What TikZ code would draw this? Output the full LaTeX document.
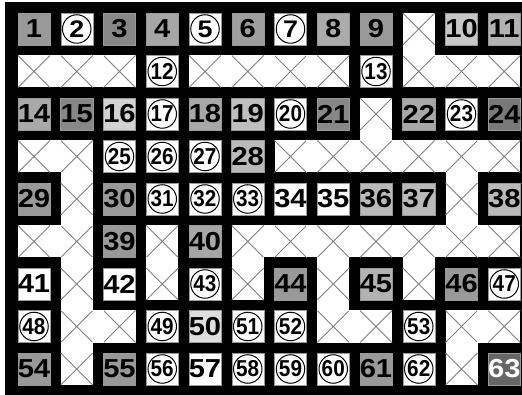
\documentclass[tikz,border=0pt]{standalone}
\usepackage{fontspec}
\newfontfamily\numfont[FakeStretch=1.12]{Liberation Sans}
\newfontfamily\cirfont[FakeStretch=0.9]{Liberation Sans}
\begin{document}
\begin{tikzpicture}[x=1pt,y=-1pt]
\tikzset{
  sq/.style={minimum size=32pt, inner sep=0pt, outer sep=0pt, draw=black!40, line width=0.5pt,
    font=\numfont\bfseries\fontsize{26}{26}\selectfont},
  ring/.style={circle, draw=black, line width=1pt, minimum size=28.5pt, inner sep=0pt},
  ringone/.style={ring, font=\numfont\bfseries\fontsize{24}{24}\selectfont},
  ringtwo/.style={ring, font=\cirfont\bfseries\fontsize{23}{23}\selectfont},
  xcell/.style={minimum size=32pt, inner sep=0pt, outer sep=0pt, fill=white},
  xline/.style={draw=black!50, line width=0.8pt},
  joinfill/.style={fill=white}
}
\useasboundingbox (0,0) rectangle (522,395);
\fill[black] (5,2) rectangle (522,395);
% corridor cells
\foreach \r/\c in {0/9,
  1/0,1/1,1/2,1/4,1/5,1/6,1/7,1/9,1/10,1/11,
  2/8,
  3/0,3/1,3/6,3/7,3/8,3/9,3/10,3/11,
  4/1,4/10,
  5/0,5/1,5/3,5/5,5/6,5/7,5/8,5/9,5/10,5/11,
  6/1,6/3,6/5,6/7,6/9,
  7/1,7/2,7/7,7/8,7/10,7/11,
  8/1,8/10}{
  \node[xcell] (x\r-\c) at ({34+42.75*\c},{29+42.5*\r}) {};
  \draw[xline] (x\r-\c.north west) -- (x\r-\c.south east)
               (x\r-\c.north east) -- (x\r-\c.south west);
}
% horizontal joins
\foreach \r/\c in {1/0,1/1,1/4,1/5,1/6,1/9,1/10,
  3/0,3/6,3/7,3/8,3/9,3/10,
  5/0,5/5,5/6,5/7,5/8,5/9,5/10,
  7/1,7/7,7/10}{
  \fill[joinfill] ({18+42.75*\c+31.8},{13+42.5*\r}) rectangle ({18+42.75*(\c+1)+0.2},{13+42.5*\r+32});
}
% vertical joins
\foreach \c/\r in {9/0,8/2,1/3,1/4,1/5,1/6,1/7,10/3,10/4,3/5,5/5,7/5,7/6,9/5,10/7}{
  \fill[joinfill] ({18+42.75*\c},{13+42.5*\r+31.8}) rectangle ({18+42.75*\c+32},{13+42.5*(\r+1)+0.2});
}
% grey squares
\foreach \c/\r/\s/\t in {0/0/40/1, 2/0/47/3, 3/0/35/4, 5/0/38/6, 7/0/33/8, 8/0/40/9, 10/0/22/10, 11/0/30/11,
  0/2/34/14, 1/2/47/15, 2/2/18/16, 4/2/34/18, 5/2/25/19, 7/2/47/21, 9/2/34/22, 11/2/53/24,
  5/3/27/28,
  0/4/40/29, 2/4/40/30, 8/4/27/36, 9/4/27/37, 11/4/27/38,
  2/5/40/39, 4/5/35/40,
  6/6/40/44, 8/6/30/45, 10/6/40/46,
  4/7/13/50,
  0/8/40/54, 2/8/40/55, 8/8/40/61}{
  \node[sq, fill=black!\s] (n\t) at ({34+42.75*\c},{29+42.5*\r}) {\raisebox{-1.5pt}{\t}};
}
\node[sq, fill=black!60, text=white] (n63) at ({34+42.75*11},{29+42.5*8}) {\raisebox{-1.5pt}{63}};
% white plain squares
\foreach \c/\r/\t in {6/4/34, 7/4/35, 0/6/41, 2/6/42, 4/8/57}{
  \node[sq, fill=white] (n\t) at ({34+42.75*\c},{29+42.5*\r}) {\raisebox{-1.5pt}{\t}};
}
% circled one-digit
\foreach \c/\r/\t in {1/0/2, 4/0/5, 6/0/7}{
  \node[sq, fill=white] (n\t) at ({34+42.75*\c},{29+42.5*\r}) {};
  \node[ringone] (r\t) at (n\t) {\raisebox{-0.5pt}{\t}};
}
% circled two-digit
\foreach \c/\r/\t in {3/1/12, 8/1/13, 3/2/17, 6/2/20, 10/2/23, 2/3/25, 3/3/26, 4/3/27,
  3/4/31, 4/4/32, 5/4/33, 4/6/43, 11/6/47, 0/7/48, 3/7/49, 5/7/51, 6/7/52, 9/7/53,
  3/8/56, 5/8/58, 6/8/59, 7/8/60, 9/8/62}{
  \node[sq, fill=white] (n\t) at ({34+42.75*\c},{29+42.5*\r}) {};
  \node[ringtwo] (r\t) at (n\t) {\raisebox{-0.5pt}{\t}};
}
\end{tikzpicture}
\end{document}
